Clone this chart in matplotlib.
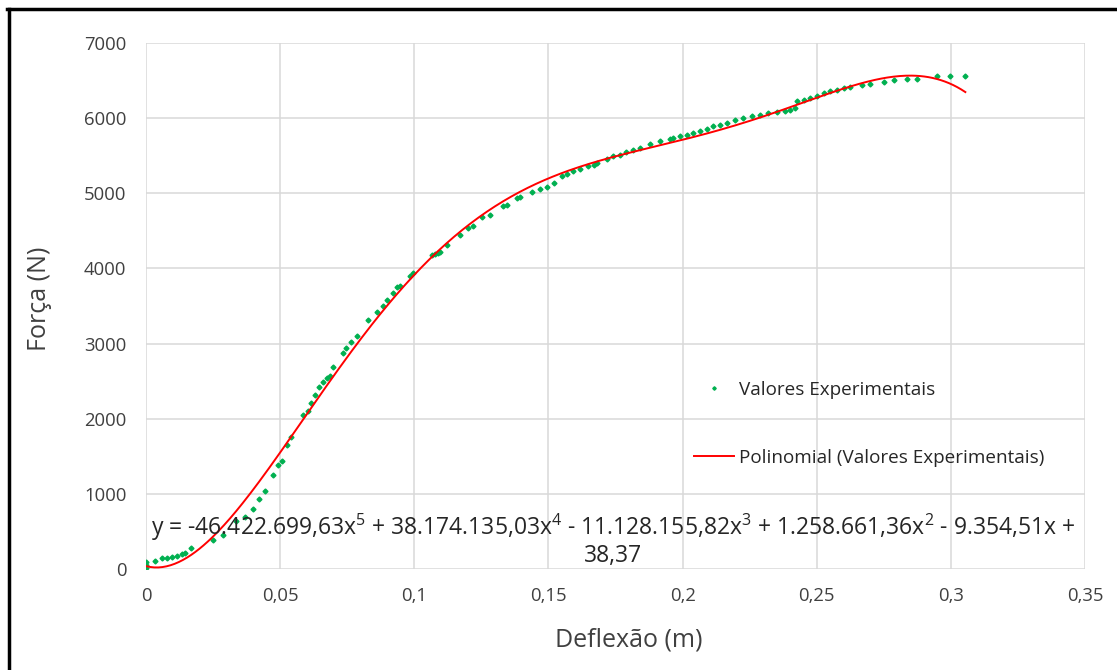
import numpy as np
import matplotlib
matplotlib.use("Agg")
import matplotlib.pyplot as plt
from matplotlib.lines import Line2D

# ---- data ----
deflexao = [0.0, 0.0, 0.0, 0.0034, 0.0059, 0.0077, 0.0096, 0.0114, 0.0133, 0.0145,
            0.0168, 0.0249, 0.0288, 0.0336, 0.0369, 0.0400, 0.0420, 0.0444, 0.0475,
            0.0492, 0.0506, 0.0525, 0.0540, 0.0586, 0.0602, 0.0616, 0.0630, 0.0646,
            0.0661, 0.0674, 0.0684, 0.0697, 0.0734, 0.0747, 0.0763, 0.0788, 0.0829,
            0.0860, 0.0883, 0.0897, 0.0922, 0.0935, 0.0947, 0.0984, 0.0997, 0.1065,
            0.1078, 0.1090, 0.1096, 0.1121, 0.1171, 0.1202, 0.1220, 0.1252, 0.1283,
            0.1332, 0.1345, 0.1382, 0.1395, 0.1438, 0.1469, 0.1494, 0.1519, 0.1550,
            0.1568, 0.1593, 0.1618, 0.1649, 0.1668, 0.1680, 0.1718, 0.1742, 0.1767,
            0.1790, 0.1817, 0.1842, 0.1879, 0.1916, 0.1954, 0.1966, 0.1991, 0.2016,
            0.2040, 0.2066, 0.2090, 0.2115, 0.2140, 0.2165, 0.2195, 0.2227, 0.2258,
            0.2289, 0.2320, 0.2352, 0.2380, 0.2401, 0.2420, 0.2426, 0.2451, 0.2476,
            0.2500, 0.2526, 0.2550, 0.2575, 0.2600, 0.2625, 0.2668, 0.2700, 0.2749,
            0.2787, 0.2836, 0.2873, 0.2948, 0.2998, 0.3054]
forca = [10, 50, 90, 113, 145, 153, 157, 171, 193, 211,
         283, 380, 447, 637, 691, 793, 930, 1037, 1247,
         1390, 1437, 1645, 1757, 2045, 2105, 2203, 2313, 2424,
         2491, 2536, 2575, 2688, 2869, 2936, 3024, 3102, 3313,
         3424, 3500, 3580, 3669, 3757, 3767, 3900, 3936, 4180,
         4195, 4211, 4224, 4313, 4447, 4536, 4560, 4691, 4713,
         4833, 4850, 4936, 4945, 5011, 5056, 5083, 5136, 5224,
         5250, 5291, 5320, 5358, 5380, 5402, 5452, 5491, 5513,
         5545, 5580, 5602, 5655, 5691, 5722, 5736, 5758, 5780,
         5800, 5824, 5860, 5891, 5915, 5936, 5970, 6002, 6025,
         6047, 6062, 6078, 6090, 6104, 6136, 6224, 6247, 6269,
         6300, 6336, 6360, 6380, 6400, 6416, 6447, 6460, 6483,
         6504, 6522, 6522, 6558, 6558, 6558]

# polynomial trendline coefficients (as printed on the chart), highest degree first
coef = [-46422699.63, 38174135.03, -11128155.82, 1258661.36, -9354.51, 38.37]
trend_range = [0.0, 0.3054]

x_ticks = [0, 0.05, 0.10, 0.15, 0.20, 0.25, 0.30, 0.35]
x_tick_labels = ["0", "0,05", "0,1", "0,15", "0,2", "0,25", "0,3", "0,35"]
y_ticks = [0, 1000, 2000, 3000, 4000, 5000, 6000, 7000]

eq_line1 = (r"y = -46.422.699,63x$^{5}$ + 38.174.135,03x$^{4}$ - 11.128.155,82x$^{3}$"
            r" + 1.258.661,36x$^{2}$ - 9.354,51x +")
eq_line2 = "38,37"

# ---- styling ----
plt.rcParams['font.family'] = ['Open Sans', 'DejaVu Sans']
plt.rcParams['mathtext.fontset'] = 'custom'
plt.rcParams['mathtext.rm'] = 'Open Sans'
plt.rcParams['mathtext.it'] = 'Open Sans'
W, H = 1117, 670
fig = plt.figure(figsize=(W / 100, H / 100), dpi=100)
fig.patch.set_facecolor('white')

L, R, T, B = 146, 1085, 43, 569
ax = fig.add_axes([L / W, 1 - B / H, (R - L) / W, (B - T) / H])
ax.set_xlim(0, 0.35)
ax.set_ylim(0, 7000)
ax.set_xticks(x_ticks)
ax.set_xticklabels(x_tick_labels)
ax.set_yticks(y_ticks)
ax.grid(True, color='#D9D9D9', linewidth=1.1)
ax.set_axisbelow(True)
for s in ax.spines.values():
    s.set_visible(False)
ax.tick_params(length=0, labelsize=13.3, labelcolor='#404040')
ax.tick_params(axis='x', pad=13)
ax.tick_params(axis='y', pad=14)

pts, = ax.plot(deflexao, forca, linestyle='none', marker='D', markersize=2.5,
               color='#00B050', label='Valores Experimentais', zorder=3)
xt = np.linspace(trend_range[0], trend_range[1], 400)
ln, = ax.plot(xt, np.polyval(coef, xt), color='#FF0000', linewidth=1.4,
              label='Polinomial (Valores Experimentais)', zorder=4)

leg = ax.legend(handles=[pts, ln], loc='upper left',
                bbox_to_anchor=(694 / W, 1 - 381 / H), bbox_transform=fig.transFigure,
                frameon=False, fontsize=13.6, labelspacing=2.65, handlelength=2.1,
                handletextpad=0.3, borderpad=0, borderaxespad=0, markerscale=0.7)
for t in leg.get_texts():
    t.set_color('#262626')

fig.text(613 / W, 1 - 527 / H, eq_line1, ha='center', va='center',
         fontsize=16.5, color='#262626')
fig.text(613 / W, 1 - 556 / H, eq_line2, ha='center', va='center',
         fontsize=16.5, color='#262626')

fig.text(40 / W, 1 - 299 / H, 'Força (N)', rotation=90, ha='center', va='center',
         fontsize=18, color='#404040')
fig.text(629 / W, 1 - 640 / H, 'Deflexão (m)', ha='center', va='center',
         fontsize=18, color='#404040')

# outer black frame (only left and top visible in the crop)
fig.add_artist(Line2D([8.5 / W, 8.5 / W], [0, 1 - 8.5 / H], transform=fig.transFigure,
                      color='black', linewidth=2.5))
fig.add_artist(Line2D([7.3 / W, 1], [1 - 8.5 / H, 1 - 8.5 / H], transform=fig.transFigure,
                      color='black', linewidth=2.5))

fig.savefig('out.png', dpi=100)
